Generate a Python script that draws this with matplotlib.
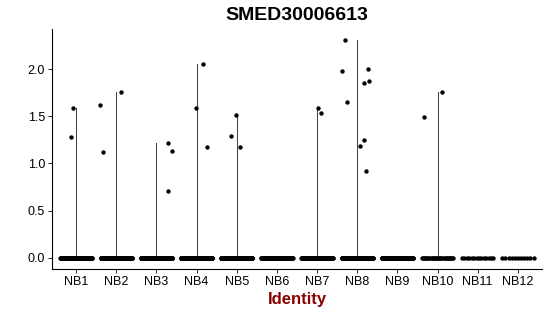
import numpy as np
import matplotlib
matplotlib.use("Agg")
import matplotlib.pyplot as plt

plt.rcParams['font.family'] = ['Liberation Sans', 'DejaVu Sans']

categories = ["NB1", "NB2", "NB3", "NB4", "NB5", "NB6", "NB7", "NB8", "NB9", "NB10", "NB11", "NB12"]
# expressed (non-zero) values per cluster
nonzero_values = {
    "NB1": [1.28, 1.584],
    "NB2": [1.622, 1.118, 1.757],
    "NB3": [1.213, 1.129, 0.712],
    "NB4": [1.584, 2.053, 1.171],
    "NB5": [1.291, 1.517, 1.178],
    "NB6": [],
    "NB7": [1.584, 1.531],
    "NB8": [2.31, 1.982, 1.647, 2.0, 1.855, 1.870, 1.245, 1.188, 0.917],
    "NB9": [],
    "NB10": [1.492, 1.753],
    "NB11": [],
    "NB12": [],
}
# horizontal jitter offsets of the non-zero points (category units)
nonzero_jitter = {
    "NB1": [-0.117, -0.067],
    "NB2": [-0.40, -0.33, 0.117],
    "NB3": [0.29, 0.40, 0.28],
    "NB4": [-0.02, 0.15, 0.25],
    "NB5": [-0.14, -0.03, 0.075],
    "NB6": [],
    "NB7": [0.03, 0.09],
    "NB8": [-0.30, -0.37, -0.25, 0.26, 0.17, 0.30, 0.17, 0.07, 0.23],
    "NB9": [],
    "NB10": [-0.35, 0.11],
    "NB11": [],
    "NB12": [],
}
# number of cells with zero expression per cluster
zero_counts = [200, 200, 200, 200, 200, 150, 200, 200, 150, 30, 14, 11]

fig = plt.figure(figsize=(5.5, 3.16), dpi=100)
ax = fig.add_axes([52/550, 1 - 268.9/316, 490/550, (268.9 - 28.8)/316])

for i, cat in enumerate(categories):
    x0 = i + 1
    vals = nonzero_values[cat]
    if vals:
        ax.plot([x0, x0], [0, max(vals)], color='#444444', lw=0.75, zorder=1)
    n0 = zero_counts[i]
    xs = x0 + np.linspace(-0.39, 0.39, n0)
    ax.scatter(xs, np.zeros(n0), s=10, color='black', linewidths=0, zorder=2)
    if vals:
        ax.scatter(x0 + np.array(nonzero_jitter[cat]), vals, s=10, color='black',
                   linewidths=0, zorder=3)

ax.set_xlim(0.4, 12.6)
ax.set_ylim(-0.1155, 2.4255)
ax.set_xticks(range(1, 13))
ax.set_xticklabels(categories)
ax.set_yticks([0, 0.5, 1.0, 1.5, 2.0])
ax.set_yticklabels(["0.0", "0.5", "1.0", "1.5", "2.0"])
for s in ['top', 'right']:
    ax.spines[s].set_visible(False)
for s in ['left', 'bottom']:
    ax.spines[s].set_linewidth(0.8)
ax.tick_params(axis='both', length=3, width=0.6, labelsize=9, colors='black', pad=2)
ax.set_xlabel("Identity", color='#8B0000', fontsize=12, fontweight='bold', labelpad=3)
ax.set_title("SMED30006613", fontsize=14, fontweight='bold', pad=6)

fig.savefig("out.png", dpi=100)
